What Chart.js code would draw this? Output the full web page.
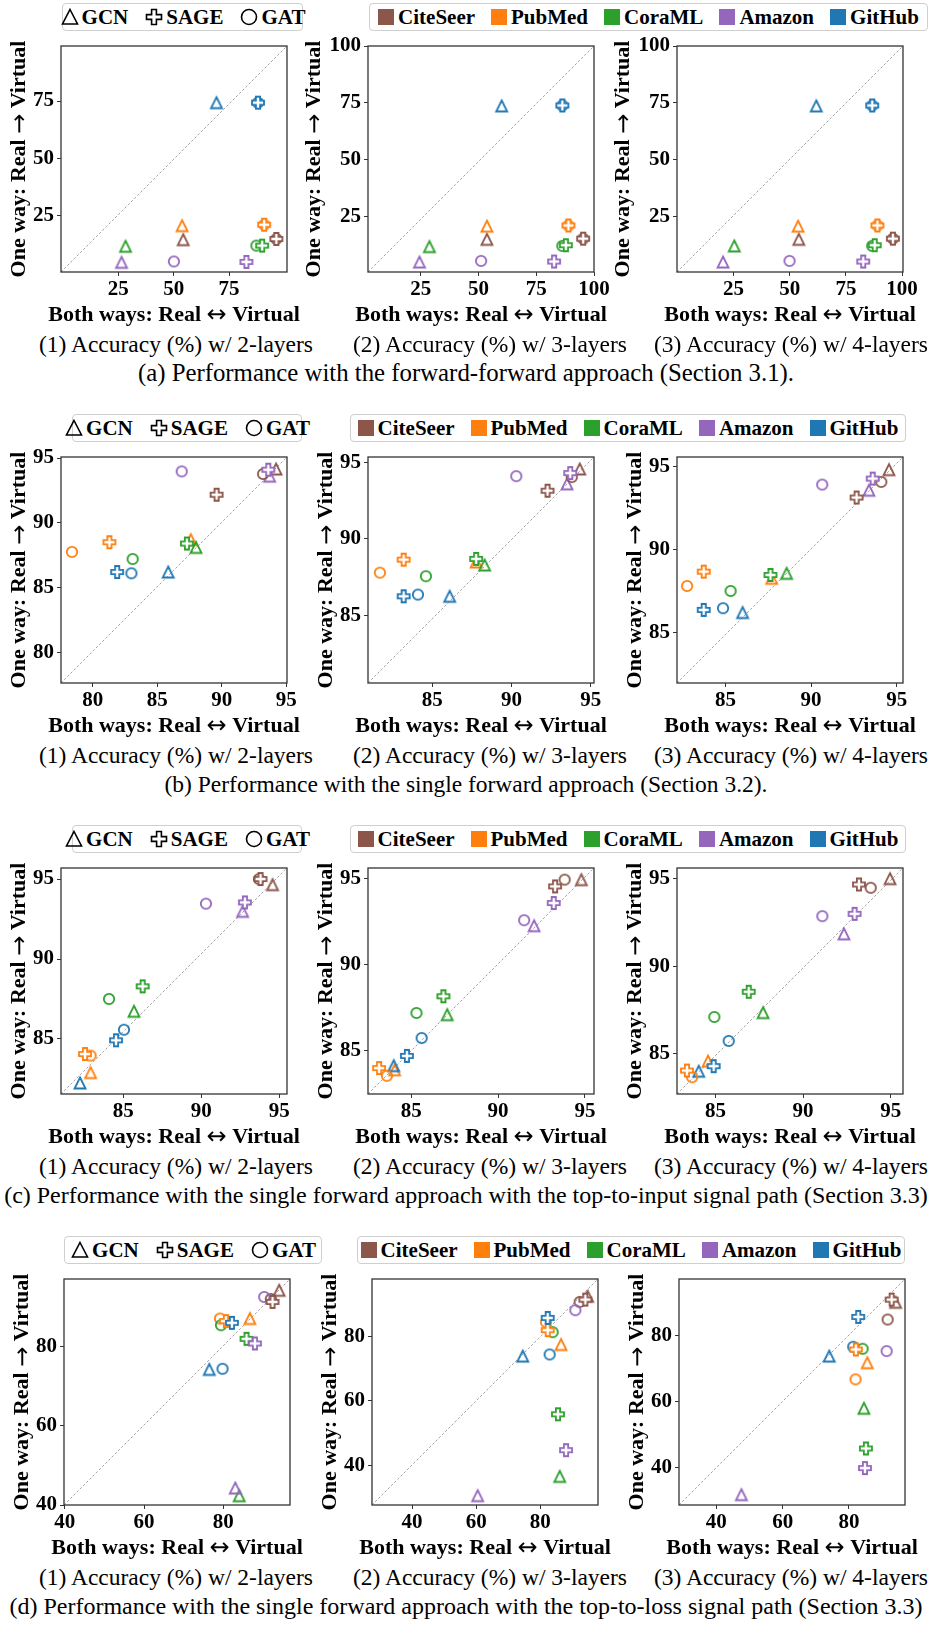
<!DOCTYPE html>
<html>
<head>
<meta charset="utf-8">
<script src="https://cdn.jsdelivr.net/npm/chart.js@4.4.1/dist/chart.umd.min.js"></script>
<style>
  html, body { margin: 0; padding: 0; background: #fff; }
  #page { position: relative; width: 930px; height: 1629px; overflow: hidden;
          font-family: "Liberation Serif", "Times New Roman", serif; color: #000; }
  #page canvas { position: absolute; }
  .txt { position: absolute; white-space: nowrap; transform: translateX(-50%); font-size: 23.5px; line-height: 26px; }
  .leg { position: absolute; box-sizing: border-box; height: 28px; border: 1px solid #cfcfcf; border-radius: 4px;
         background: #fff; display: flex; align-items: center; justify-content: center;
         font-weight: bold; font-size: 21px; white-space: nowrap; }
  .leg .it { display: flex; align-items: center; margin: 0 8px; }
  .leg svg { margin-right: 2px; }
  .sw { width: 16px; height: 16px; margin-right: 4px; display: inline-block; }
</style>
</head>
<body>
<div id="page"></div>
<script>
// categories
const datasetNames = ['CiteSeer', 'PubMed', 'CoraML', 'Amazon', 'GitHub'];
const datasetColors = ['#8c564b', '#ff7f0e', '#2ca02c', '#9467bd', '#1f77b4'];
const modelNames = ['GCN', 'SAGE', 'GAT'];
const layerLabels = ['(1) Accuracy (%) w/ 2-layers', '(2) Accuracy (%) w/ 3-layers', '(3) Accuracy (%) w/ 4-layers'];
const rowCaptions = [
  '(a) Performance with the forward-forward approach (Section 3.1).',
  '(b) Performance with the single forward approach (Section 3.2).',
  '(c) Performance with the single forward approach with the top-to-input signal path (Section 3.3)',
  '(d) Performance with the single forward approach with the top-to-loss signal path (Section 3.3)'
];
// axis titles, split around the arrow
const xTitle = ['Both ways: Real ', '\u2194', ' Virtual'];
const yTitle = ['One way: Real ', '\u2192', ' Virtual'];

// tick labels
const ticksA1 = [25, 50, 75];
const ticksA = [25, 50, 75, 100];
const ticksB1 = [80, 85, 90, 95];
const ticksHigh = [85, 90, 95];
const ticksD = [40, 60, 80];

// values: per dataset [GCN, SAGE, GAT], dataset order as datasetNames
// x = both ways (Real <-> Virtual), y = one way (Real -> Virtual)
const bothA1 = [54.3, 96.3, 96.3, 53.8, 90.8, 90.8, 28.3, 89.9, 87.3, 26.5, 82.8, 50.1, 69.3, 88.0, 88.0];
const oneA1  = [14.6, 14.9, 14.9, 20.7, 21.1, 21.1, 11.7, 12.0, 12.0, 4.7, 4.9, 5.1, 74.3, 74.3, 74.3];
const bothA2 = [53.6, 95.3, 95.3, 53.6, 88.9, 88.9, 28.7, 87.8, 86.3, 24.4, 82.7, 51.1, 60.0, 86.3, 86.3];
const oneA2  = [14.8, 15.1, 15.1, 20.6, 20.9, 20.9, 11.6, 12.2, 11.9, 4.8, 5.0, 5.3, 73.6, 73.8, 73.8];
const bothA3 = [54.0, 95.9, 95.9, 53.7, 89.0, 89.0, 25.3, 87.8, 86.7, 20.3, 82.7, 49.9, 61.8, 86.7, 86.7];
const oneA3  = [14.8, 15.1, 15.1, 20.6, 20.9, 20.9, 11.9, 12.2, 11.9, 4.8, 5.0, 5.3, 73.6, 73.8, 73.8];

const bothB1 = [94.2, 89.6, 93.2, 87.6, 81.3, 78.4, 88.0, 87.3, 83.1, 93.7, 93.6, 86.9, 85.85, 81.9, 83.0];
const oneB1  = [94.15, 92.17, 93.77, 88.7, 88.5, 87.75, 88.1, 88.4, 87.2, 93.6, 94.1, 93.97, 86.2, 86.2, 86.1];
const bothB2 = [94.3, 92.27, 93.8, 87.77, 83.2, 81.7, 88.3, 87.77, 84.6, 93.5, 93.7, 90.3, 86.1, 83.2, 84.1];
const oneB2  = [94.57, 93.15, 94.04, 88.5, 88.65, 87.8, 88.3, 88.7, 87.57, 93.6, 94.3, 94.1, 86.26, 86.26, 86.37];
const bothB3 = [94.55, 92.66, 94.1, 87.7, 83.73, 82.76, 88.57, 87.63, 85.3, 93.38, 93.6, 90.65, 86.0, 83.73, 84.86];
const oneB3  = [94.8, 93.12, 94.06, 88.26, 88.66, 87.8, 88.56, 88.46, 87.5, 93.56, 94.26, 93.9, 86.2, 86.36, 86.46];

const bothC1 = [94.57, 93.8, 93.7, 82.9, 82.54, 82.9, 85.68, 86.24, 84.08, 92.65, 92.8, 90.3, 82.22, 84.53, 85.04];
const oneC1  = [94.65, 95.0, 95.0, 82.9, 84.06, 83.96, 86.73, 88.29, 87.5, 92.98, 93.54, 93.46, 82.25, 84.92, 85.58];
const bothC2 = [94.79, 93.28, 93.83, 84.04, 83.15, 83.6, 87.07, 86.85, 85.3, 92.07, 93.2, 91.5, 83.99, 84.75, 85.6];
const oneC2  = [94.96, 94.57, 94.96, 83.89, 83.99, 83.54, 87.1, 88.17, 87.2, 92.28, 93.6, 92.6, 84.13, 84.7, 85.74];
const bothC3 = [94.96, 93.19, 93.86, 84.58, 83.38, 83.67, 87.72, 86.9, 84.94, 92.33, 92.94, 91.1, 84.05, 84.9, 85.76];
const oneC3  = [95.0, 94.67, 94.48, 84.58, 84.04, 83.66, 87.35, 88.54, 87.1, 91.85, 92.99, 92.86, 84.0, 84.29, 85.73];

const bothD1 = [94.07, 92.4, 91.97, 86.69, 80.65, 79.15, 84.0, 85.85, 79.4, 83.0, 87.95, 90.3, 76.46, 82.16, 79.8];
const oneD1  = [94.06, 91.13, 91.88, 86.95, 86.3, 86.95, 42.34, 81.84, 85.27, 44.27, 80.67, 92.38, 74.14, 85.86, 74.3];
const bothD2 = [94.75, 94.03, 92.26, 86.44, 82.3, 81.77, 86.03, 85.5, 83.84, 60.47, 88.0, 90.9, 74.5, 82.3, 82.9];
const oneD2  = [92.64, 91.6, 90.88, 77.6, 82.07, 84.56, 36.48, 55.85, 81.45, 30.47, 44.66, 88.3, 73.99, 85.9, 74.5];
const bothD3 = [94.1, 92.9, 91.69, 85.54, 82.1, 82.0, 84.53, 85.14, 84.13, 47.56, 84.84, 91.39, 74.06, 82.82, 81.3];
const oneD3  = [90.07, 90.88, 84.84, 71.74, 75.77, 66.7, 57.93, 45.74, 75.97, 31.74, 39.8, 75.26, 73.75, 85.64, 76.57];

// panels: [both, one, xMin, xMax, yMin, yMax, xTicks, yTicks]
const panels = [
  [[bothA1, oneA1, -0.8, 101.1, 0.5, 99, ticksA1, ticksA1],
   [bothA2, oneA2, 2.1, 100, 0.4, 100, ticksA, ticksA],
   [bothA3, oneA3, -0.2, 100.4, 0.4, 100, ticksA, ticksA]],
  [[bothB1, oneB1, 77.55, 95.05, 77.63, 95.08, ticksB1, ticksB1],
   [bothB2, oneB2, 80.95, 95.2, 80.6, 95.35, ticksHigh, ticksHigh],
   [bothB3, oneB3, 82.17, 95.37, 81.96, 95.56, ticksHigh, ticksHigh]],
  [[bothC1, oneC1, 81.0, 95.5, 81.56, 95.69, ticksHigh, ticksHigh],
   [bothC2, oneC2, 82.51, 95.52, 82.48, 95.64, ticksHigh, ticksHigh],
   [bothC3, oneC3, 82.81, 95.7, 82.7, 95.61, ticksHigh, ticksHigh]],
  [[bothD1, oneD1, 39.83, 96.8, 40.0, 96.9, ticksD, ticksD],
   [bothD2, oneD2, 27.53, 97.97, 27.56, 98.03, ticksD, ticksD],
   [bothD3, oneD3, 28.72, 96.93, 28.6, 97.13, ticksD, ticksD]]
];

// layout
const PLOT = 226, PAD_TOP = 16, PAD_RIGHT = 22, X_AXIS_H = 56;
const rowTops = [46, 457, 868, 1279];
const colLefts = [[61, 368, 677], [61, 368, 677], [61, 368, 677], [64, 372, 679]];
const subcapCenters = [176, 490, 791];
const captionSizes = [24.8, 23.5, 24, 24];
const leftLegends = [[62, 303], [72, 302], [72, 302], [64, 322]];
const rightLegends = [[369, 928], [350, 906], [350, 906], [357, 905]];

const page = document.getElementById('page');
const SERIF = "'Liberation Serif', 'Times New Roman', serif";
const tickFont = { family: SERIF, size: 21, weight: 'bold' };
const TITLE_FONT = "bold 22px 'Liberation Serif', serif";
const ARROW_FONT = "24px 'DejaVu Sans', sans-serif";

function markerCanvas(model, color) {
  const c = document.createElement('canvas');
  c.width = 18; c.height = 18;
  const g = c.getContext('2d');
  g.lineWidth = 1.8;
  g.strokeStyle = color;
  g.beginPath();
  if (model === 'GCN') {
    g.moveTo(9, 3.5); g.lineTo(14.5, 14.5); g.lineTo(3.5, 14.5); g.closePath();
    g.stroke();
  } else if (model === 'GAT') {
    g.arc(9, 9, 5.2, 0, Math.PI * 2);
    g.stroke();
  } else {
    const s = 6, t = 2.1;
    const pts = [[-t, -s], [t, -s], [t, -t], [s, -t], [s, t], [t, t], [t, s], [-t, s], [-t, t], [-s, t], [-s, -t], [-t, -t]];
    pts.forEach((p, i) => i ? g.lineTo(9 + p[0], 9 + p[1]) : g.moveTo(9 + p[0], 9 + p[1]));
    g.closePath();
    g.fillStyle = '#fff';
    g.fill();
    g.stroke();
  }
  return c;
}

const markers = {};
modelNames.forEach(m => { markers[m] = datasetColors.map(col => markerCanvas(m, col)); });

// title text with the arrow set in a font that has a long arrow
function drawTitle(ctx, parts, cx, cy, rot) {
  const fonts = [TITLE_FONT, ARROW_FONT, TITLE_FONT];
  ctx.save();
  ctx.translate(cx, cy);
  ctx.rotate(rot);
  ctx.textBaseline = 'middle';
  ctx.textAlign = 'left';
  ctx.fillStyle = '#000';
  const widths = parts.map((s, i) => { ctx.font = fonts[i]; return ctx.measureText(s).width; });
  let x = -widths.reduce((a, b) => a + b, 0) / 2;
  parts.forEach((s, i) => { ctx.font = fonts[i]; ctx.fillText(s, x, i === 1 ? 1 : 0); x += widths[i]; });
  ctx.restore();
}

const framePlugin = {
  id: 'frame',
  beforeDatasetsDraw(chart) {
    const { ctx, chartArea: a } = chart;
    ctx.save();
    ctx.strokeStyle = '#8c8c8c';
    ctx.lineWidth = 0.8;
    ctx.setLineDash([2.5, 2]);
    ctx.beginPath();
    ctx.moveTo(a.left, a.bottom);
    ctx.lineTo(a.right, a.top);
    ctx.stroke();
    ctx.restore();
  },
  afterDraw(chart) {
    const { ctx, chartArea: a, scales } = chart;
    ctx.save();
    ctx.strokeStyle = '#333';
    ctx.lineWidth = 1.3;
    ctx.strokeRect(a.left, a.top, a.right - a.left, a.bottom - a.top);
    ctx.restore();
    drawTitle(ctx, xTitle, (a.left + a.right) / 2, scales.x.bottom - 13, 0);
    drawTitle(ctx, yTitle, scales.y.left + 12.6, (a.top + a.bottom) / 2, -Math.PI / 2);
  }
};

function axis(min, max, ticks, isX, yw) {
  return {
    type: 'linear', min: min, max: max,
    afterBuildTicks: s => { s.ticks = ticks.map(v => ({ value: v })); },
    afterFit: s => { if (isX) s.height = X_AXIS_H; else s.width = yw; },
    grid: { display: true, drawOnChartArea: false, drawTicks: true, tickLength: 4, color: '#333', lineWidth: 1 },
    border: { display: false },
    ticks: { font: tickFont, color: '#000', padding: isX ? 1 : 3, maxRotation: 0, autoSkip: false },
    title: { display: false }
  };
}

function buildPanel(r, c) {
  const [both, one, xMin, xMax, yMin, yMax, xt, yt] = panels[r][c];
  const yw = xt.indexOf(100) >= 0 ? 66 : 54;
  const w = yw + PLOT + PAD_RIGHT, h = PAD_TOP + PLOT + X_AXIS_H;
  const cv = document.createElement('canvas');
  cv.width = w; cv.height = h;
  cv.style.width = w + 'px'; cv.style.height = h + 'px';
  cv.style.left = (colLefts[r][c] - yw) + 'px';
  cv.style.top = (rowTops[r] - PAD_TOP) + 'px';
  page.appendChild(cv);

  const order = { SAGE: 0, GAT: 1, GCN: 2 };
  new Chart(cv.getContext('2d'), {
    type: 'scatter',
    data: {
      datasets: modelNames.map((m, mi) => ({
        label: m,
        order: order[m],
        clip: false,
        data: datasetNames.map((d, di) => ({ x: both[di * 3 + mi], y: one[di * 3 + mi] })),
        pointStyle: markers[m],
        pointRadius: 6,
        pointHoverRadius: 6
      }))
    },
    options: {
      responsive: false, animation: false, devicePixelRatio: 1, events: [],
      layout: { padding: { top: PAD_TOP, right: PAD_RIGHT, left: 0, bottom: 0 } },
      plugins: { legend: { display: false }, tooltip: { enabled: false } },
      scales: { x: axis(xMin, xMax, xt, true, yw), y: axis(yMin, yMax, yt, false, yw) }
    },
    plugins: [framePlugin]
  });
}

function text(str, cx, cy, size) {
  const d = document.createElement('div');
  d.className = 'txt';
  d.textContent = str;
  d.style.left = cx + 'px';
  d.style.top = (cy - 13) + 'px';
  if (size) d.style.fontSize = size + 'px';
  page.appendChild(d);
}

const shapeSvg = {
  GCN: '<svg width="20" height="20" viewBox="0 0 20 20"><path d="M10 2.5 L17.5 17 L2.5 17 Z" fill="none" stroke="#000" stroke-width="1.6"/></svg>',
  SAGE: '<svg width="20" height="20" viewBox="0 0 20 20"><path d="M7.6 2.5 H12.4 V7.6 H17.5 V12.4 H12.4 V17.5 H7.6 V12.4 H2.5 V7.6 H7.6 Z" fill="none" stroke="#000" stroke-width="1.6"/></svg>',
  GAT: '<svg width="20" height="20" viewBox="0 0 20 20"><circle cx="10" cy="10" r="7.5" fill="none" stroke="#000" stroke-width="1.6"/></svg>'
};

function legends(r) {
  const top = rowTops[r] - 43;
  const L = document.createElement('div');
  L.className = 'leg';
  L.style.left = leftLegends[r][0] + 'px';
  L.style.width = (leftLegends[r][1] - leftLegends[r][0]) + 'px';
  L.style.top = top + 'px';
  L.innerHTML = modelNames.map(m => '<span class="it">' + shapeSvg[m] + m + '</span>').join('');
  page.appendChild(L);

  const R = document.createElement('div');
  R.className = 'leg';
  R.style.left = rightLegends[r][0] + 'px';
  R.style.width = (rightLegends[r][1] - rightLegends[r][0]) + 'px';
  R.style.top = top + 'px';
  R.innerHTML = datasetNames.map((d, i) =>
    '<span class="it"><span class="sw" style="background:' + datasetColors[i] + '"></span>' + d + '</span>').join('');
  page.appendChild(R);
}

for (let r = 0; r < 4; r++) {
  legends(r);
  for (let c = 0; c < 3; c++) {
    buildPanel(r, c);
    text(layerLabels[c], subcapCenters[c], rowTops[r] + PLOT + 72);
  }
  text(rowCaptions[r], 466, rowTops[r] + PLOT + 101, captionSizes[r]);
}
</script>
</body>
</html>
